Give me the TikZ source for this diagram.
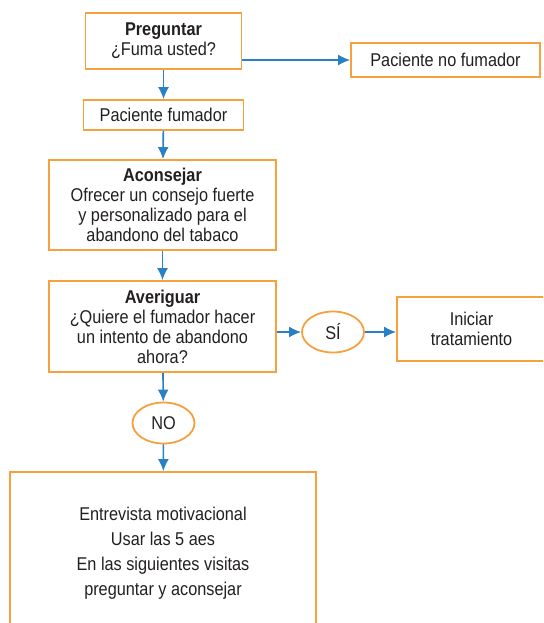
\documentclass[tikz,border=0pt]{standalone}
\usepackage{fontspec}
\setmainfont[FakeStretch=0.88]{Liberation Sans}
\usetikzlibrary{shapes.geometric,arrows.meta}
\definecolor{boxorange}{RGB}{246,160,62}
\definecolor{arrowblue}{RGB}{42,128,196}
\definecolor{textgray}{RGB}{35,31,32}
\begin{document}
\begin{tikzpicture}[x=0.5pt, y=-0.5pt, every node/.style={draw=boxorange, line width=0.9pt, inner sep=0pt, align=center, text=textgray, font=\fontsize{9.25}{10}\selectfont}, ->, >={Latex[length=6pt,width=5.5pt]}, line width=0.8pt]
		\tikzstyle{box} = [rectangle]
		\tikzstyle{answer} = [ellipse, minimum width=31pt, minimum height=20.5pt]
		\tikzstyle{link} = [draw=arrowblue]
		
		\useasboundingbox (0,0) rectangle (543,623);
		\clip (0,0) rectangle (543,623);
		
		\node[box, minimum width=78pt, minimum height=28pt] (preguntar) at (163.5,41) {\textbf{Preguntar}\\¿Fuma usted?};
		\node[box, minimum width=94.5pt, minimum height=17pt] (nofumador) at (445.5,60) {Paciente no fumador};
		\node[box, minimum width=80pt, minimum height=15pt] (fumador) at (163.5,115) {Paciente fumador};
		\node[box, minimum width=113.5pt, minimum height=45pt] (aconsejar) at (162.5,205) {\textbf{Aconsejar}\\Ofrecer un consejo fuerte\\y personalizado para el\\abandono del tabaco};
		\node[box, minimum width=113.5pt, minimum height=45.5pt] (averiguar) at (162.5,326.5) {\textbf{Averiguar}\\¿Quiere el fumador hacer\\un intento de abandono\\ahora?};
		\node[answer] (si) at (333,332) {SÍ};
		\node[box, minimum width=74.5pt, minimum height=32pt] (iniciar) at (471.5,329) {Iniciar\\tratamiento};
		\node[answer] (no) at (163.5,423) {NO};
		\node[box, minimum width=153pt, minimum height=81pt, font=\fontsize{9.25}{12.5}\selectfont] (motivacional) at (163,553) {Entrevista motivacional\\Usar las 5 aes\\En las siguientes visitas\\preguntar y aconsejar};
		
		\draw[link] (preguntar) -- (fumador);
		\draw[link] (nofumador.west -| preguntar.east) -- (nofumador.west);
		\draw[link] (fumador) -- (aconsejar);
		\draw[link] (aconsejar) -- (averiguar);
		\draw[link] (si.west -| averiguar.east) -- (si.west);
		\draw[link] (si.east) -- (si.east -| iniciar.west);
		\draw[link] (averiguar) -- (no);
		\draw[link] (no) -- (motivacional);
	\end{tikzpicture}
\end{document}
